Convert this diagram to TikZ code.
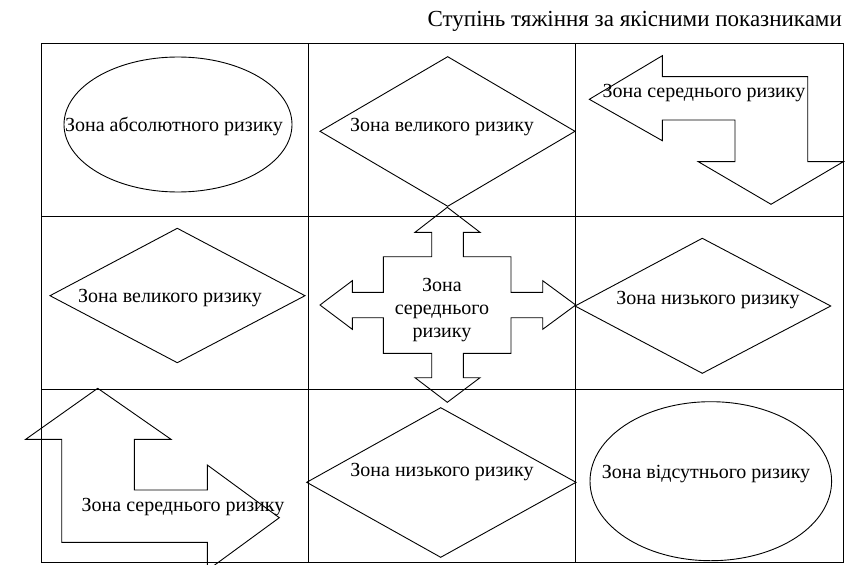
\documentclass[tikz,border=0pt]{standalone}
\usepackage{fontspec}
\setmainfont{Liberation Serif}
\begin{document}
\begin{tikzpicture}[x=1pt,y=-1pt,line join=miter,
  shp/.style={draw=black,line width=0.9pt},
  grd/.style={draw=black,line width=1pt},
  lbl/.style={inner sep=0pt,font=\fontsize{20}{23.3}\selectfont,align=center}]
\useasboundingbox (0,0) rectangle (858,564);
\clip (0,0) rectangle (858,564);
% title
\node[lbl,anchor=base east,font=\fontsize{23}{26}\selectfont] (title) at (842,27) {Ступінь тяжіння за якісними показниками};
% grid
\draw[grd] (41,44) rectangle (843,562);
\draw[grd] (308,44) -- (308,562);
\draw[grd] (575.5,44) -- (575.5,562);
\draw[grd] (41,216) -- (843,216);
\draw[grd] (41,389) -- (843,389);
% row 1
\draw[shp] (178,124.5) ellipse [x radius=114,y radius=67.5];
\node[lbl] (a1) at (174,127) {Зона абсолютного ризику};
\draw[shp] (320,131.3) -- (447.7,56.7) -- (575,131.3) -- (447.7,206.3) -- cycle;
\node[lbl] (a2) at (442,127) {Зона великого ризику};
\draw[shp] (589.3,99.3) -- (662.3,55.7) -- (662.3,76.7) -- (807.7,76.7) -- (807.7,161.7)
  -- (843.3,161.7) -- (771,204.3) -- (698.3,161.7) -- (735,161.7) -- (735,120)
  -- (662.3,120) -- (662.3,140.7) -- cycle;
\node[lbl] (a3) at (704,93) {Зона середнього ризику};
% row 2
\draw[shp] (50,295.7) -- (177.3,228.3) -- (305,295.7) -- (177.3,362.7) -- cycle;
\node[lbl] (b1) at (170,298) {Зона великого ризику};
\draw[shp] (447.3,207.3) -- (480,232.3) -- (463.3,232.3) -- (463.3,256.7) -- (511,256.7)
  -- (511,292.3) -- (542.7,292.3) -- (542.7,280.7) -- (575.7,305) -- (542.7,329.3)
  -- (542.7,317.7) -- (511,317.7) -- (511,353.3) -- (463.3,353.3) -- (463.3,377.7)
  -- (480,377.7) -- (447.3,402.3) -- (415,377.7) -- (431.7,377.7) -- (431.7,353.3)
  -- (383.3,353.3) -- (383.3,317.7) -- (352.3,317.7) -- (352.3,329.3) -- (320,305)
  -- (352.3,280.7) -- (352.3,292.3) -- (383.3,292.3) -- (383.3,256.7) -- (431.7,256.7)
  -- (431.7,232.3) -- (415,232.3) -- cycle;
\node[lbl] (b2) at (442,310) {Зона\\середнього\\ризику};
\draw[shp] (575,306) -- (702.3,238.3) -- (830.7,306) -- (702.3,373.3) -- cycle;
\node[lbl] (b3) at (708,300) {Зона низького ризику};
% row 3
\draw[shp] (97.7,388.3) -- (171,439.3) -- (134.3,439.3) -- (134.3,490) -- (207.3,490)
  -- (207.3,465) -- (279.3,517.7) -- (207.3,570.4) -- (207.3,542.3) -- (61.7,542.3)
  -- (61.7,439.3) -- (25.7,439.3) -- cycle;
\node[lbl] (c1) at (183,507) {Зона середнього ризику};
\draw[shp] (306.7,482.3) -- (440.7,407.7) -- (576,482.3) -- (440.7,557.3) -- cycle;
\node[lbl] (c2) at (442,472) {Зона низького ризику};
\draw[shp] (710.8,481.2) ellipse [x radius=120.8,y radius=79.5];
\node[lbl] (c3) at (706,474) {Зона відсутнього ризику};
\end{tikzpicture}
\end{document}
